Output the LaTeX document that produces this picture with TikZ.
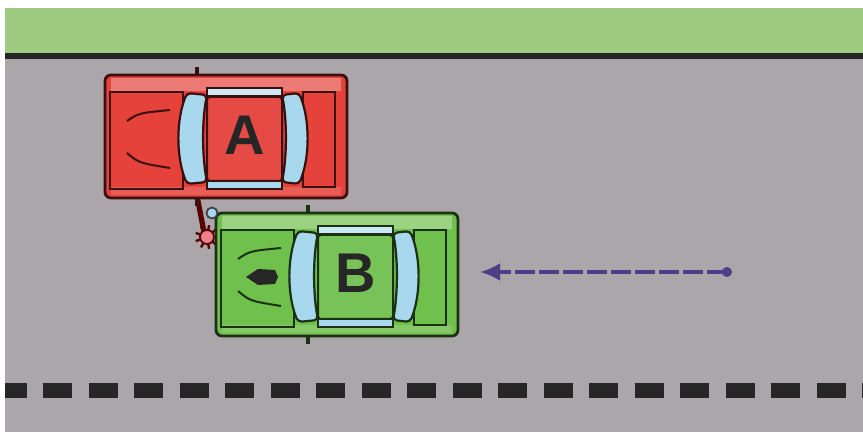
\documentclass[tikz,border=0pt]{standalone}
\usepackage{fontspec}
\setsansfont{Liberation Sans}
\usepackage{tikz}
\usetikzlibrary{%
  calc,%
  arrows.meta%
}
\definecolor{grass}{RGB}{158,201,128}
\definecolor{road}{RGB}{170,166,170}
\definecolor{carred}{RGB}{228,66,58}
\definecolor{cargreen}{RGB}{112,192,78}
\definecolor{glass}{RGB}{168,216,238}
\definecolor{arrowpurple}{RGB}{78,62,136}
\definecolor{crashpink}{RGB}{238,128,140}

%% one car seen from above, front to the left
%% #1 = shift, #2 = colour, #3 = letter
\newcommand\drawcar[3]{%
  \begin{scope}[shift={#1}]
    %% mirrors
    \draw[line width=2pt,#2!25!black] (92,-8) -- (92,131);
    %% body
    \filldraw[fill=#2,draw=#2!25!black,line width=1.4pt,rounded corners=3pt]
      (0,0) rectangle (242,123);
    \fill[#2!70!white] (6,3) rectangle (236,16);
    \fill[#2!85!white] (6,112) rectangle (236,120);
    %% hood, rear panel
    \draw[#2!25!black,line width=0.8pt] (5,17) rectangle (78,114);
    \draw[#2!25!black,line width=0.8pt] (198,17) rectangle (230,112);
    \draw[#2!25!black,line width=1pt] (22,46) .. controls (34,38) .. (65,35);
    \draw[#2!25!black,line width=1pt] (22,78) .. controls (34,88) .. (65,93);
    %% side windows
    \filldraw[fill=glass!60!white,draw=#2!25!black,line width=0.7pt]
      (102,13) rectangle (177,21);
    \filldraw[fill=glass,draw=#2!25!black,line width=0.7pt]
      (102,106) rectangle (177,114);
    %% windshields
    \filldraw[fill=glass,draw=#2!25!black,line width=1.1pt,rounded corners=2pt]
      (82,18) .. controls (71,45) and (71,82) .. (82,109)
      -- (102,107) .. controls (97,80) and (97,45) .. (102,20) -- cycle;
    \filldraw[fill=glass,draw=#2!25!black,line width=1.1pt,rounded corners=2pt]
      (177,20) .. controls (182,45) and (182,80) .. (177,107)
      -- (194,109) .. controls (205,82) and (205,45) .. (194,18) -- cycle;
    %% roof
    \filldraw[fill=#2!95!white,draw=#2!25!black,line width=1pt,rounded corners=1.5pt]
      (102,22) rectangle (177,106);
    \node[font=\sffamily\bfseries\fontsize{28}{28}\selectfont,text=black!85]
      (car#3) at (140,60) {#3};
  \end{scope}}

\begin{document}
\begin{tikzpicture}[x=0.5pt,y=-0.5pt]
  \useasboundingbox (0,0) rectangle (863,432);

  %% road and grass
  \fill[white] (0,0) rectangle (863,432);
  \fill[grass] (5,8) rectangle (863,54);
  \fill[road] (5,59) rectangle (863,432);
  \fill[black!85] (5,53) rectangle (863,59);

  %% lane line
  \begin{scope}
    \clip (5,59) rectangle (863,432);
    \foreach \k in {0,...,19}
      \fill[black!85] ({-2.5+45.5*\k},383) rectangle ++(29,15);
  \end{scope}

  %% collision between the mirrors
  \draw[line width=2.6pt,red!35!black] (197,196) -- (204,232);
  \foreach \a in {0,40,...,320}
    \draw[line width=1.2pt,red!35!black] (207,237) -- ++(\a:12);
  \filldraw[fill=crashpink,draw=red!35!black,line width=0.9pt] (207,237) circle (7);

  %% cars
  \drawcar{(105,75)}{carred}{A}
  \drawcar{(216,213)}{cargreen}{B}
  \filldraw[fill=glass,draw=black!75,line width=0.9pt] (212,213) circle (5.5);

  %% direction of B
  \fill[black!85] (246,277) -- (258,269) -- (275,270) -- (278,277)
    -- (275,284) -- (258,285) -- cycle;

  %% dashed arrow
  \coordinate (arrowend) at (727,272);
  \coordinate (arrowtip) at (480,272);
  \draw[arrowpurple,line width=1.7pt,dash pattern=on 10pt off 2pt,
        -{Latex[length=10pt,width=9pt]}] (arrowend) -- (arrowtip);
  \fill[arrowpurple] (arrowend) circle (5);
\end{tikzpicture}
\end{document}
